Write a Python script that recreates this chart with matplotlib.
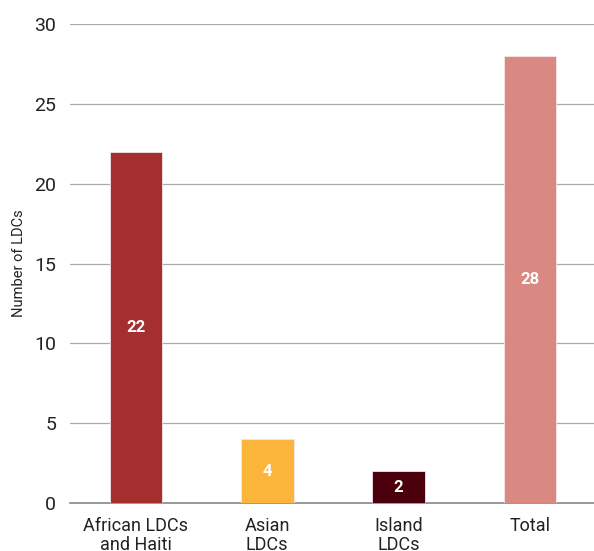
import matplotlib.pyplot as plt

categories = ['African LDCs\nand Haiti', 'Asian\nLDCs', 'Island\nLDCs', 'Total']
counts = [22, 4, 2, 28]
colors = ['#A52F2F', '#FBB53B', '#4A000C', '#DA8882']
yticks = [0, 5, 10, 15, 20, 25, 30]

plt.rcParams['font.family'] = ['Roboto', 'DejaVu Sans']

fig = plt.figure(figsize=(5.94, 5.51), dpi=100)
ax = fig.add_axes([0.118, 0.0871, 0.885, 0.8693])

x = range(len(categories))
bars = ax.bar(x, counts, width=0.4, color=colors, edgecolor='#f2e6e6', linewidth=0.6, zorder=3)

for b, v in zip(bars, counts):
    ax.text(b.get_x() + b.get_width() / 2, v / 2, str(v), ha='center', va='center',
            color='white', fontsize=12, fontweight='bold', zorder=4)

ax.set_xlim(-0.5, 3.5)
ax.set_ylim(0, 30)
ax.set_yticks(yticks)
ax.set_xticks(list(x))
ax.set_xticklabels(categories, fontsize=13, color='#222222', linespacing=1.05)
ax.tick_params(axis='y', length=0, labelsize=14, colors='#222222', pad=10)
ax.tick_params(axis='x', length=0, colors='#222222', pad=10)

ax.grid(axis='y', color='#aaaaaa', linewidth=0.9, zorder=0)
for s in ['top', 'right', 'left']:
    ax.spines[s].set_visible(False)
ax.spines['bottom'].set_color('#888888')
ax.spines['bottom'].set_linewidth(1.2)

ax.set_ylabel('Number of LDCs', fontsize=10.5, color='#222222', labelpad=6)

fig.savefig('out.png', dpi=100)
